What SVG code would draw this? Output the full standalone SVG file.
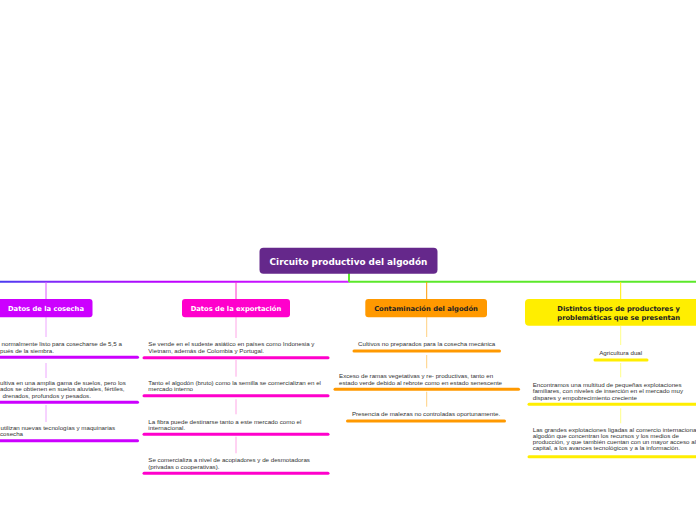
<svg xmlns="http://www.w3.org/2000/svg" width="696" height="520" viewBox="0 0 696 520">
<defs>
<linearGradient id="gl" x1="0" y1="0" x2="348" y2="0" gradientUnits="userSpaceOnUse">
<stop offset="0" stop-color="#4a3cf0"/>
<stop offset="0.13" stop-color="#7a2cf8"/>
<stop offset="0.5" stop-color="#c000ff"/>
<stop offset="1" stop-color="#cc22ff"/>
</linearGradient>
<style>
.t{font-family:"Liberation Sans",Arial,sans-serif;font-size:6.2px;fill:#333}
.h{font-family:"DejaVu Sans",Verdana,sans-serif;font-weight:bold;font-size:6.75px}
.c{text-anchor:middle}
.u{stroke-width:3;stroke-linecap:round;fill:none}
.s{stroke-width:1;fill:none}
</style>
</defs>
<rect width="696" height="520" fill="#ffffff"/>
<g id="connectors">
<line x1="0" y1="281.7" x2="349" y2="281.7" stroke="url(#gl)" stroke-width="2"/>
<line x1="349" y1="281.7" x2="696" y2="281.7" stroke="#5be82a" stroke-width="2"/>
<line x1="349" y1="273" x2="349" y2="282" stroke="#5be82a" stroke-width="2"/>
<line x1="46" y1="282" x2="46" y2="299" stroke="#dd55ff" class="s"/>
<line x1="236" y1="282" x2="236" y2="299" stroke="#ff33cc" class="s"/>
<line x1="426.7" y1="282" x2="426.7" y2="299" stroke="#ff9900" class="s"/>
<line x1="620.7" y1="282" x2="620.7" y2="299" stroke="#ffee00" class="s"/>
<g stroke="#eea6ff" class="s">
<line x1="46" y1="317" x2="46" y2="337"/>
<line x1="46" y1="363" x2="46" y2="378"/>
<line x1="46" y1="405" x2="46" y2="422"/>
</g>
<g stroke="#ffa6e6" class="s">
<line x1="236" y1="317" x2="236" y2="338"/>
<line x1="236" y1="360" x2="236" y2="376.7"/>
<line x1="236" y1="399.3" x2="236" y2="414.3"/>
<line x1="236" y1="436.7" x2="236" y2="453.3"/>
</g>
<g stroke="#ffd080" class="s">
<line x1="426.7" y1="317" x2="426.7" y2="337"/>
<line x1="426.7" y1="355" x2="426.7" y2="368.3"/>
<line x1="426.7" y1="391.7" x2="426.7" y2="406.7"/>
</g>
<g stroke="#ffff88" class="s">
<line x1="620.7" y1="326" x2="620.7" y2="345"/>
<line x1="620.7" y1="363" x2="620.7" y2="377.3"/>
<line x1="620.7" y1="408.3" x2="620.7" y2="423.3"/>
</g>
</g>
<g id="root">
<rect x="259.5" y="247.7" width="178" height="26" rx="4" fill="#65288b"/>
<text x="348.5" y="265" class="c" style="font-family:'DejaVu Sans',Verdana,sans-serif;font-weight:bold;font-size:8.9px;fill:#ffffff">Circuito productivo del algodón</text>
</g>
<g id="n-cosecha">
<rect x="-4" y="299" width="96.5" height="18.3" rx="3" fill="#cc00ff"/>
<text x="46" y="310.6" class="h c" fill="#ffffff">Datos de la cosecha</text>
</g>
<g id="n-exportacion">
<rect x="182" y="299" width="108" height="18.3" rx="3" fill="#ff00cc"/>
<text x="236" y="310.6" class="h c" fill="#ffffff">Datos de la exportación</text>
</g>
<g id="n-contaminacion">
<rect x="365.3" y="299" width="121.7" height="18.3" rx="3" fill="#ff9900"/>
<text x="426" y="310.6" class="h c" fill="#222222">Contaminación del algodón</text>
</g>
<g id="n-distintos">
<rect x="525" y="299" width="180" height="26.7" rx="4" fill="#ffee00"/>
<text class="h" fill="#222222"><tspan x="557.3" y="310.6">Distintos tipos de productores y</tspan><tspan x="557.3" y="319.6">problemáticas que se presentan</tspan></text>
</g>
<g id="c-cosecha-1">
<text class="t"><tspan x="1.5" y="346.3">normalmente listo para cosecharse de 5,5 a</tspan><tspan x="0" y="353">pués de la siembra.</tspan></text>
<line x1="0" y1="357.3" x2="137.5" y2="357.3" stroke="#cc00ff" class="u"/>
</g>
<g id="c-cosecha-2">
<text class="t"><tspan x="0" y="384.7">ultiva en una amplia gama de suelos, pero los</tspan><tspan x="0" y="391.3">ados se obtienen en suelos aluviales, fértiles,</tspan><tspan x="2.5" y="398">drenados, profundos y pesados.</tspan></text>
<line x1="0" y1="402.3" x2="137.5" y2="402.3" stroke="#cc00ff" class="u"/>
</g>
<g id="c-cosecha-3">
<text class="t"><tspan x="0.5" y="430.3">utilizan nuevas tecnologías y maquinarias</tspan><tspan x="0" y="436">cosecha</tspan></text>
<line x1="0" y1="440.7" x2="137.5" y2="440.7" stroke="#cc00ff" class="u"/>
</g>
<g id="c-exp-1">
<text class="t"><tspan x="148.3" y="346">Se vende en el sudeste asiático en países como Indonesia y</tspan><tspan x="148.3" y="353">Vietnam, además de Colombia y Portugal.</tspan></text>
<line x1="144" y1="357.7" x2="328" y2="357.7" stroke="#ff00cc" class="u"/>
</g>
<g id="c-exp-2">
<text class="t"><tspan x="148.3" y="385.3">Tanto el algodón (bruto) como la semilla se comercializan en el</tspan><tspan x="148.3" y="391.3">mercado interno</tspan></text>
<line x1="144" y1="395.7" x2="328" y2="395.7" stroke="#ff00cc" class="u"/>
</g>
<g id="c-exp-3">
<text class="t"><tspan x="148.3" y="423.7">La fibra puede destinarse tanto a este mercado como el</tspan><tspan x="148.3" y="430.3">internacional.</tspan></text>
<line x1="144" y1="434.3" x2="328" y2="434.3" stroke="#ff00cc" class="u"/>
</g>
<g id="c-exp-4">
<text class="t"><tspan x="148.3" y="462">Se comercializa a nivel de acopiadores y de desmotadoras</tspan><tspan x="148.3" y="468.7">(privadas o cooperativas).</tspan></text>
<line x1="144" y1="473.3" x2="328" y2="473.3" stroke="#ff00cc" class="u"/>
</g>
<g id="c-cont-1">
<text x="426.7" y="346" class="t c">Cultivos no preparados para la cosecha mecánica</text>
<line x1="354" y1="351" x2="499.5" y2="351" stroke="#ff9900" class="u"/>
</g>
<g id="c-cont-2">
<text class="t"><tspan x="339" y="378">Exceso de ramas vegetativas y re- productivas, tanto en</tspan><tspan x="339" y="385.3">estado verde debido al rebrote como en estado senescente</tspan></text>
<line x1="335" y1="389.3" x2="518.5" y2="389.3" stroke="#ff9900" class="u"/>
</g>
<g id="c-cont-3">
<text x="426" y="416" class="t c">Presencia de malezas no controladas oportunamente.</text>
<line x1="347.5" y1="421" x2="504.5" y2="421" stroke="#ff9900" class="u"/>
</g>
<g id="c-dist-1">
<text x="620.7" y="354.7" class="t c">Agricultura dual</text>
<line x1="595" y1="360" x2="647" y2="360" stroke="#ffee00" class="u"/>
</g>
<g id="c-dist-2">
<text class="t"><tspan x="532.7" y="387">Encontramos una multitud de pequeñas explotaciones</tspan><tspan x="532.7" y="393.3">familiares, con niveles de inserción en el mercado muy</tspan><tspan x="532.7" y="400.3">dispares y empobrecimiento creciente</tspan></text>
<line x1="529" y1="404.3" x2="700" y2="404.3" stroke="#ffee00" class="u"/>
</g>
<g id="c-dist-3">
<text class="t"><tspan x="532.7" y="432">Las grandes explotaciones ligadas al comercio internacional del</tspan><tspan x="532.7" y="438">algodón que concentran los recursos y los medios de</tspan><tspan x="532.7" y="443.8">producción, y que también cuentan con un mayor acceso al</tspan><tspan x="532.7" y="449.8">capital, a los avances tecnológicos y a la información.</tspan></text>
<line x1="529" y1="456.7" x2="700" y2="456.7" stroke="#ffee00" class="u"/>
</g>
</svg>
